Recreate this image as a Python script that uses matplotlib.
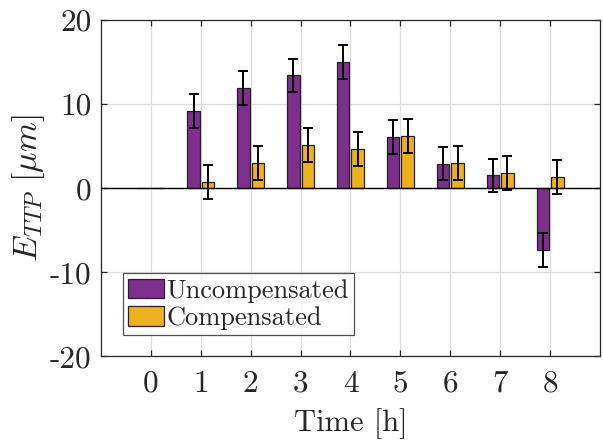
import matplotlib
matplotlib.use("Agg")
import matplotlib.pyplot as plt
import numpy as np

plt.rcParams["font.family"] = "serif"
plt.rcParams["font.serif"] = ["cmr10"]
plt.rcParams["mathtext.fontset"] = "cm"
plt.rcParams["axes.unicode_minus"] = False

hours = [0, 1, 2, 3, 4, 5, 6, 7, 8]
uncompensated = [0.0, 9.2, 11.9, 13.4, 15.0, 6.1, 2.9, 1.5, -7.4]
compensated = [0.0, 0.7, 2.95, 5.1, 4.65, 6.2, 2.95, 1.8, 1.3]
unc_err = [0.0, 2.0, 2.0, 2.0, 2.0, 2.0, 2.0, 2.0, 2.0]
comp_err = [0.0, 2.0, 2.0, 2.0, 2.0, 2.0, 2.0, 2.0, 2.0]
y_ticks = [-20, -10, 0, 10, 20]
y_tick_labels = ["-20", "-10", "0", "10", "20"]

purple = "#7E2F8E"
yellow = "#EDB120"
ink = "#262626"

fig = plt.figure(figsize=(6.03, 4.43), dpi=100)
ax = fig.add_axes([0.1675, 0.196, 0.8275, 0.759])

x = np.array(hours, dtype=float)
w = 0.25
off = 0.145

ax.bar(x - off, uncompensated, w, color=purple, edgecolor="#222222",
       linewidth=0.9, label="Uncompensated", zorder=3)
ax.bar(x + off, compensated, w, color=yellow, edgecolor="#222222",
       linewidth=0.9, label="Compensated", zorder=3)

mask = np.array(unc_err) > 0
ax.errorbar((x - off)[mask], np.array(uncompensated)[mask], yerr=np.array(unc_err)[mask],
            fmt="none", ecolor="black", elinewidth=1.4, capsize=3.5, capthick=1.4, zorder=4)
mask = np.array(comp_err) > 0
ax.errorbar((x + off)[mask], np.array(compensated)[mask], yerr=np.array(comp_err)[mask],
            fmt="none", ecolor="black", elinewidth=1.4, capsize=3.5, capthick=1.4, zorder=4)

ax.axhline(0, color="black", linewidth=1.0, zorder=3.5)

ax.set_xlim(-1, 9)
ax.set_ylim(-20, 20)
ax.set_xticks(hours)
ax.set_xticklabels([str(h) for h in hours])
ax.set_yticks(y_ticks)
ax.set_yticklabels(y_tick_labels)

ax.grid(True, color="#dcdcdc", linewidth=0.9, zorder=0)
ax.set_axisbelow(True)

for s in ax.spines.values():
    s.set_color(ink)
    s.set_linewidth(0.9)

ax.tick_params(direction="in", length=4, width=0.9, colors=ink,
               top=True, right=True, labelsize=22.5)
ax.tick_params(axis="x", pad=10)
ax.tick_params(axis="y", pad=7)
for lbl in ax.get_xticklabels() + ax.get_yticklabels():
    lbl.set_color(ink)

ax.set_xlabel("Time [h]", fontsize=22, color=ink, labelpad=7)
ax.set_ylabel(r"$E_{TTP}\ [\mu m]$", fontsize=24.5, color=ink, labelpad=2)

leg = ax.legend(loc="lower left", bbox_to_anchor=(0.044, 0.0625), fontsize=19,
                frameon=True, fancybox=False, edgecolor=ink,
                handlelength=1.35, handleheight=0.78, handletextpad=0.1,
                borderpad=0.2, labelspacing=0.12, borderaxespad=0)
leg.get_frame().set_linewidth(0.9)
for t in leg.get_texts():
    t.set_color(ink)

fig.savefig("out.png", dpi=100)
